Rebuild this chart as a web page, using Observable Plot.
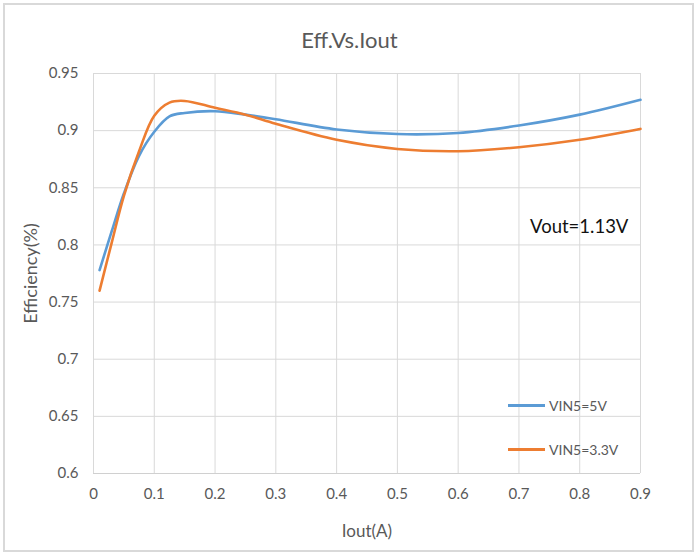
<!DOCTYPE html>
<html>
<head>
<meta charset="utf-8">
<script src="https://cdn.jsdelivr.net/npm/d3@7"></script>
<script src="https://cdn.jsdelivr.net/npm/@observablehq/plot@0.6"></script>
<style>
  html, body { margin: 0; padding: 0; background: #fff; }
  #wrap { position: relative; width: 699px; height: 558px; font-family: Lato, "Open Sans", sans-serif; }
  #frame { position: absolute; left: 3px; top: 3px; width: 691px; height: 549px; border: 2px solid #d9d9d9; box-sizing: border-box; pointer-events: none; }
  #title { position: absolute; left: 0; width: 699px; top: 26px; text-align: center; font-size: 22px; color: #595959; }
  #note { position: absolute; left: 530px; top: 215px; font-size: 18.5px; color: #111; }
  .leg { position: absolute; left: 508px; font-size: 14px; color: #595959; display: flex; align-items: center; }
  .leg span.sw { display: inline-block; width: 37px; height: 3px; margin-right: 4px; }
  #chart svg { display: block; }
</style>
</head>
<body>
<div id="wrap">
  <div id="chart"></div>
  <div id="frame"></div>
  <div id="title">Eff.Vs.Iout</div>
  <div id="note">Vout=1.13V</div>
  <div class="leg" id="leg1" style="top:397px"><span class="sw" style="background:#5B9BD5"></span>VIN5=5V</div>
  <div class="leg" id="leg2" style="top:441px"><span class="sw" style="background:#ED7D31"></span>VIN5=3.3V</div>
</div>
<script>
const iout = [0.01, 0.03, 0.05, 0.075, 0.1, 0.125, 0.15, 0.2, 0.25, 0.3, 0.4, 0.5, 0.6, 0.7, 0.8, 0.9];
const eff5V = [0.778, 0.812, 0.845, 0.878, 0.899, 0.9125, 0.9155, 0.917, 0.914, 0.910, 0.901, 0.897, 0.898, 0.9045, 0.914, 0.927];
const eff33V = [0.760, 0.802, 0.843, 0.882, 0.913, 0.9245, 0.926, 0.920, 0.914, 0.906, 0.892, 0.884, 0.882, 0.8855, 0.892, 0.9015];
const seriesNames = ["VIN5=5V", "VIN5=3.3V"];
const seriesColors = ["#5B9BD5", "#ED7D31"];
const xTicks = [0, 0.1, 0.2, 0.3, 0.4, 0.5, 0.6, 0.7, 0.8, 0.9];
const yTicks = [0.6, 0.65, 0.7, 0.75, 0.8, 0.85, 0.9, 0.95];

const rows = [];
iout.forEach((x, i) => rows.push({x, y: eff5V[i], s: seriesNames[0]}));
iout.forEach((x, i) => rows.push({x, y: eff33V[i], s: seriesNames[1]}));

const fmt = d => String(+d.toFixed(2));
const chart = Plot.plot({
  width: 699,
  height: 558,
  marginLeft: 93,
  marginRight: 59,
  marginTop: 73,
  marginBottom: 85,
  style: {fontFamily: "Lato, 'Open Sans', sans-serif", fontSize: "15px", color: "#595959", background: "#fff"},
  x: {domain: [0, 0.9], ticks: xTicks, tickFormat: fmt},
  y: {domain: [0.6, 0.95], ticks: yTicks, tickFormat: fmt},
  color: {domain: seriesNames, range: seriesColors},
  marks: [
    Plot.gridX(xTicks, {stroke: "#d9d9d9", strokeOpacity: 1, strokeWidth: 1}),
    Plot.gridY(yTicks, {stroke: "#d9d9d9", strokeOpacity: 1, strokeWidth: 1}),
    Plot.ruleY([0.6], {stroke: "#d0d0d0", strokeWidth: 1.2}),
    Plot.axisX({ticks: xTicks, tickSize: 0, tickPadding: 15, fontSize: 15, label: "Iout(A)", labelAnchor: "center", labelArrow: "none", labelOffset: 63, tickFormat: fmt}),
    Plot.axisY({ticks: yTicks, tickSize: 0, tickPadding: 15, fontSize: 15, label: "Efficiency(%)", labelAnchor: "center", labelArrow: "none", labelOffset: 69, tickFormat: fmt}),
    Plot.line(rows, {x: "x", y: "y", z: "s", stroke: "s", strokeWidth: 2.6, curve: "catmull-rom"})
  ]
});
document.getElementById("chart").appendChild(chart);
chart.querySelectorAll("g[aria-label='x-axis label'] text").forEach(t => t.setAttribute("font-size", "17px"));
chart.querySelectorAll("g[aria-label='y-axis label'] text").forEach(t => t.setAttribute("font-size", "18px"));
</script>
</body>
</html>
